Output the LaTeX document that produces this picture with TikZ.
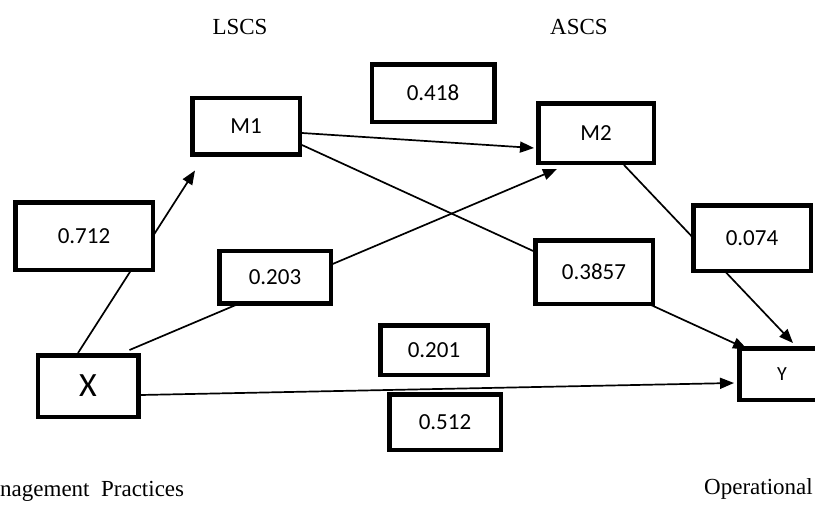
\documentclass[tikz,border=0pt]{standalone}
\usepackage{fontspec}
\setmainfont{Liberation Serif}
\newfontfamily\numfont{Carlito}
\usetikzlibrary{arrows.meta}
\begin{document}
\begin{tikzpicture}[x=1pt,y=-1pt,
  bx/.style={draw=black, line width=4.5pt, fill=white, inner sep=0pt, font=\numfont\fontsize{23}{27}\selectfont},
  ar/.style={line width=1.7pt, -{Triangle[length=14pt,width=11pt]}},
  ttl/.style={font=\fontsize{23}{27}\selectfont}]
\useasboundingbox (0,0) rectangle (815,506);
\clip (0,0) rectangle (815,506);
\fill[white] (0,0) rectangle (815,506);
% titles
\node[ttl] (lscs) at (240,27) {LSCS};
\node[ttl] (ascs) at (579,27) {ASCS};
\node[ttl, anchor=base west, inner sep=0pt] (mp) at (0,496) {nagement\ \ Practices};
\node[ttl, anchor=base west, inner sep=0pt] (op) at (704,494) {Operational};
% main variable boxes
\node[bx, minimum width=107.5, minimum height=56.5] (M1) at (246,126) {M1};
\node[bx, minimum width=115.5, minimum height=59.5] (M2) at (596,133) {M2};
\node[bx, minimum width=100.5, minimum height=61.5, font=\numfont\fontsize{34}{40}\selectfont] (X) at (88,386) {X};
\node[bx, minimum width=85.5, minimum height=51.5, font=\numfont\fontsize{20}{24}\selectfont] (Y) at (782,374) {Y};
% connectors
\draw[ar] ([xshift=-10pt]X.north) -- ([shift={(5pt,-14pt)}]M1.south west);
\draw[ar] ([shift={(-11pt,3pt)}]X.north east) -- ([shift={(-39pt,-4pt)}]M2.south);
\draw[ar] ([yshift=-7pt]M1.east) -- ([shift={(-2pt,-15pt)}]M2.west);
\draw[ar] ([yshift=-19pt]M1.east) -- ([shift={(10pt,-3pt)}]Y.north west);
\draw[ar] ([xshift=28pt]M2.south) -- ([shift={(11pt,3pt)}]Y.north);
\draw[ar] ([yshift=-9pt]X.east) -- ([shift={(-3pt,-9pt)}]Y.west);
% coefficient boxes
\node[bx, minimum width=122.5, minimum height=57.5] (c418) at (433,93) {0.418};
\node[bx, minimum width=137.5, minimum height=67.5] (c712) at (84,236) {0.712};
\node[bx, minimum width=111.5, minimum height=52.5] (c203) at (275,277) {0.203};
\node[bx, minimum width=117.5, minimum height=63.5] (c3857) at (594,272) {0.3857};
\node[bx, minimum width=117.5, minimum height=65.5] (c074) at (752,238) {0.074};
\node[bx, minimum width=107.5, minimum height=49.5] (c201) at (434,350) {0.201};
\node[bx, minimum width=111.5, minimum height=55.5] (c512) at (445,422) {0.512};
\end{tikzpicture}
\end{document}
